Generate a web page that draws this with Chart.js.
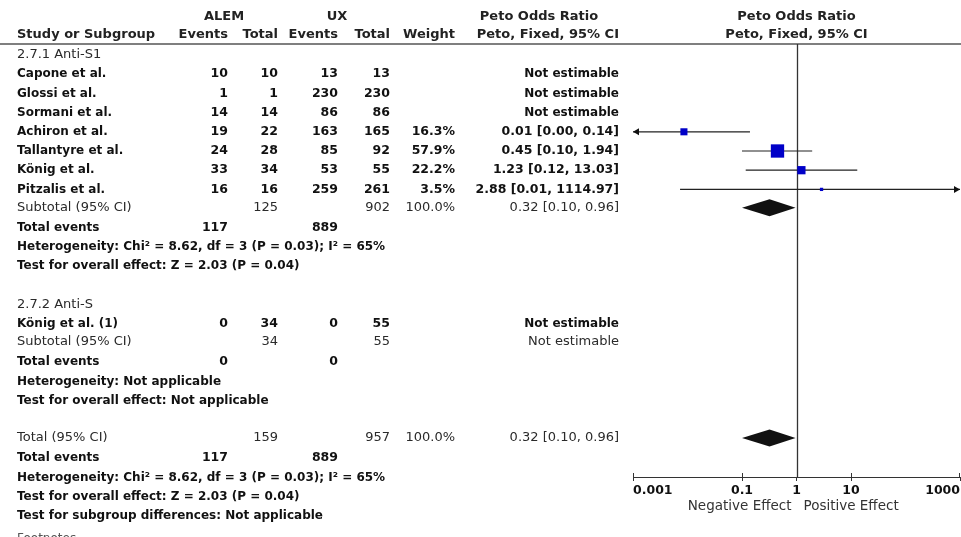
<!DOCTYPE html>
<html>
<head>
<meta charset="utf-8">
<script src="https://cdn.jsdelivr.net/npm/chart.js@4.4.0/dist/chart.umd.min.js"></script>
<style>
  html, body { margin: 0; padding: 0; background: #fff; }
  #wrap { width: 961px; height: 537px; }
</style>
</head>
<body>
<div id="wrap"><canvas id="forest" width="961" height="537"></canvas></div>
<script>
// 2.7.1 Anti-S1
const studyNames = ['Capone et al.', 'Glossi et al.', 'Sormani et al.', 'Achiron et al.', 'Tallantyre et al.', 'König et al.', 'Pitzalis et al.'];
const alemEvents = [10, 1, 14, 19, 24, 33, 16];
const alemTotal = [10, 1, 14, 22, 28, 34, 16];
const uxEvents = [13, 230, 86, 163, 85, 53, 259];
const uxTotal = [13, 230, 86, 165, 92, 55, 261];
const weights = [null, null, null, 16.3, 57.9, 22.2, 3.5];
const oddsRatio = [null, null, null, 0.0086, 0.448, 1.23, 2.88];
const ciLow = [null, null, null, 0.0004, 0.10, 0.117, 0.0073];
const ciHigh = [null, null, null, 0.14, 1.94, 13.03, 1114.97];

// 2.7.2 Anti-S
const studyNames2 = ['König et al. (1)'];
const alemEvents2 = [0];
const alemTotal2 = [34];
const uxEvents2 = [0];
const uxTotal2 = [55];

// pooled results [OR, low, high]
const subtotal1 = [0.32, 0.10, 0.96];
const overall = [0.32, 0.10, 0.96];

const tickValues = [0.001, 0.1, 1, 10, 1000];
const tickLabels = ['0.001', '0.1', '1', '10', '1000'];

const het1 = 'Heterogeneity: Chi² = 8.62, df = 3 (P = 0.03); I² = 65%';
const effect1 = 'Test for overall effect: Z = 2.03 (P = 0.04)';

// row layout (row index -> y through the y scale)
const studyRows = [1, 2, 3, 4, 5, 6, 7];
const ROW = {
  g1: 0, sub1: 7.95, ev1: 9, het1: 10, eff1: 11,
  g2: 13, study2: 14, sub2: 14.95, ev2: 16, het2: 17, eff2: 18,
  tot: 19.95, evT: 21, hetT: 22, effT: 23, subgrp: 24, foot: 25.2
};

const sum = a => a.reduce((s, v) => s + v, 0);
const fmt = v => v.toFixed(2);

const FONT = '"DejaVu Sans"';
const colX = { name: 17, ae: 228, at: 278, ue: 338, ut: 390, w: 455, ci: 619 };

const lineSets = [];
const squarePts = [];
const squareSize = [];
studyRows.forEach((r, i) => {
  if (oddsRatio[i] === null) return;
  lineSets.push({
    type: 'line',
    data: [{ x: Math.max(ciLow[i], 0.001), y: r }, { x: Math.min(ciHigh[i], 1000), y: r }],
    borderColor: '#222', borderWidth: 1.2, pointRadius: 0, order: 2
  });
  squarePts.push({ x: oddsRatio[i], y: r });
  squareSize.push(1.75 * Math.sqrt(weights[i]) / Math.SQRT2);
});

const forestExtras = {
  id: 'forestExtras',
  beforeDatasetsDraw(chart) {
    const { ctx, chartArea: a, scales: { x } } = chart;
    ctx.save();
    // header rule
    ctx.strokeStyle = '#555';
    ctx.lineWidth = 1.5;
    ctx.beginPath();
    ctx.moveTo(0, a.top);
    ctx.lineTo(961, a.top);
    ctx.stroke();
    // line of no effect
    const x1 = Math.round(x.getPixelForValue(1)) + 0.5;
    ctx.strokeStyle = '#333';
    ctx.lineWidth = 1.3;
    ctx.beginPath();
    ctx.moveTo(x1, a.top);
    ctx.lineTo(x1, a.bottom);
    ctx.stroke();
    ctx.restore();
  },
  afterDatasetsDraw(chart) {
    const { ctx, chartArea: a, scales: { x, y } } = chart;
    ctx.save();
    // arrows for CIs running off the axis
    ctx.fillStyle = '#111';
    studyRows.forEach((r, i) => {
      if (oddsRatio[i] === null) return;
      const py = y.getPixelForValue(r);
      if (ciLow[i] < x.min) {
        const px = a.left;
        ctx.beginPath();
        ctx.moveTo(px, py);
        ctx.lineTo(px + 6, py - 3.5);
        ctx.lineTo(px + 6, py + 3.5);
        ctx.closePath();
        ctx.fill();
      }
      if (ciHigh[i] > x.max) {
        const px = a.right;
        ctx.beginPath();
        ctx.moveTo(px, py);
        ctx.lineTo(px - 6, py - 3.5);
        ctx.lineTo(px - 6, py + 3.5);
        ctx.closePath();
        ctx.fill();
      }
    });
    // diamonds
    [[subtotal1, ROW.sub1], [overall, ROW.tot]].forEach(([d, r]) => {
      const py = y.getPixelForValue(r);
      ctx.beginPath();
      ctx.moveTo(x.getPixelForValue(d[1]), py);
      ctx.lineTo(x.getPixelForValue(d[0]), py - 8.5);
      ctx.lineTo(x.getPixelForValue(d[2]), py);
      ctx.lineTo(x.getPixelForValue(d[0]), py + 8.5);
      ctx.closePath();
      ctx.fill();
    });
    ctx.restore();
  },
  afterDraw(chart) {
    const { ctx, chartArea: a, scales: { x, y } } = chart;
    const ry = r => y.getPixelForValue(r);
    ctx.save();
    ctx.textBaseline = 'middle';
    const put = (txt, px, py, align, font, color) => {
      ctx.font = font;
      ctx.fillStyle = color;
      ctx.textAlign = align;
      ctx.fillText(txt, px, py);
    };
    const head = 'bold 13px ' + FONT;
    const grp = '13px ' + FONT;
    const dat = 'bold 12px ' + FONT;
    const num = 'bold 12.5px ' + FONT;
    const sub = '13px ' + FONT;
    const stat = 'bold 12px ' + FONT;
    const dark = '#111', grey = '#2a2a2a';

    // column headers
    put('ALEM', 224, 17, 'center', head, '#222');
    put('UX', 337, 17, 'center', head, '#222');
    put('Peto Odds Ratio', 539, 17, 'center', head, '#222');
    put('Peto Odds Ratio', x.getPixelForValue(1), 17, 'center', head, '#222');
    put('Study or Subgroup', colX.name, 35, 'left', head, '#222');
    put('Events', colX.ae, 35, 'right', head, '#222');
    put('Total', colX.at, 35, 'right', head, '#222');
    put('Events', colX.ue, 35, 'right', head, '#222');
    put('Total', colX.ut, 35, 'right', head, '#222');
    put('Weight', colX.w, 35, 'right', head, '#222');
    put('Peto, Fixed, 95% CI', colX.ci, 35, 'right', head, '#222');
    put('Peto, Fixed, 95% CI', x.getPixelForValue(1), 35, 'center', head, '#222');

    // group 1
    put('2.7.1 Anti-S1', colX.name, ry(ROW.g1), 'left', grp, grey);
    studyRows.forEach((r, i) => {
      const py = ry(r);
      put(studyNames[i], colX.name, py, 'left', dat, dark);
      put(String(alemEvents[i]), colX.ae, py, 'right', num, dark);
      put(String(alemTotal[i]), colX.at, py, 'right', num, dark);
      put(String(uxEvents[i]), colX.ue, py, 'right', num, dark);
      put(String(uxTotal[i]), colX.ut, py, 'right', num, dark);
      if (weights[i] === null) {
        put('Not estimable', colX.ci, py, 'right', dat, dark);
      } else {
        put(weights[i].toFixed(1) + '%', colX.w, py, 'right', num, dark);
        put(fmt(oddsRatio[i]) + ' [' + fmt(ciLow[i]) + ', ' + fmt(ciHigh[i]) + ']', colX.ci, py, 'right', num, dark);
      }
    });
    let py = ry(ROW.sub1);
    put('Subtotal (95% CI)', colX.name, py, 'left', sub, grey);
    put(String(sum(alemTotal)), colX.at, py, 'right', sub, grey);
    put(String(sum(uxTotal)), colX.ut, py, 'right', sub, grey);
    put('100.0%', colX.w, py, 'right', sub, grey);
    put(fmt(subtotal1[0]) + ' [' + fmt(subtotal1[1]) + ', ' + fmt(subtotal1[2]) + ']', colX.ci, py, 'right', sub, grey);
    py = ry(ROW.ev1);
    put('Total events', colX.name, py, 'left', stat, dark);
    put(String(sum(alemEvents)), colX.ae, py, 'right', num, dark);
    put(String(sum(uxEvents)), colX.ue, py, 'right', num, dark);
    put(het1, colX.name, ry(ROW.het1), 'left', stat, dark);
    put(effect1, colX.name, ry(ROW.eff1), 'left', stat, dark);

    // group 2
    put('2.7.2 Anti-S', colX.name, ry(ROW.g2), 'left', grp, grey);
    py = ry(ROW.study2);
    put(studyNames2[0], colX.name, py, 'left', dat, dark);
    put(String(alemEvents2[0]), colX.ae, py, 'right', num, dark);
    put(String(alemTotal2[0]), colX.at, py, 'right', num, dark);
    put(String(uxEvents2[0]), colX.ue, py, 'right', num, dark);
    put(String(uxTotal2[0]), colX.ut, py, 'right', num, dark);
    put('Not estimable', colX.ci, py, 'right', dat, dark);
    py = ry(ROW.sub2);
    put('Subtotal (95% CI)', colX.name, py, 'left', sub, grey);
    put(String(sum(alemTotal2)), colX.at, py, 'right', sub, grey);
    put(String(sum(uxTotal2)), colX.ut, py, 'right', sub, grey);
    put('Not estimable', colX.ci, py, 'right', sub, grey);
    py = ry(ROW.ev2);
    put('Total events', colX.name, py, 'left', stat, dark);
    put(String(sum(alemEvents2)), colX.ae, py, 'right', num, dark);
    put(String(sum(uxEvents2)), colX.ue, py, 'right', num, dark);
    put('Heterogeneity: Not applicable', colX.name, ry(ROW.het2), 'left', stat, dark);
    put('Test for overall effect: Not applicable', colX.name, ry(ROW.eff2), 'left', stat, dark);

    // overall
    py = ry(ROW.tot);
    put('Total (95% CI)', colX.name, py, 'left', sub, grey);
    put(String(sum(alemTotal) + sum(alemTotal2)), colX.at, py, 'right', sub, grey);
    put(String(sum(uxTotal) + sum(uxTotal2)), colX.ut, py, 'right', sub, grey);
    put('100.0%', colX.w, py, 'right', sub, grey);
    put(fmt(overall[0]) + ' [' + fmt(overall[1]) + ', ' + fmt(overall[2]) + ']', colX.ci, py, 'right', sub, grey);
    py = ry(ROW.evT);
    put('Total events', colX.name, py, 'left', stat, dark);
    put(String(sum(alemEvents) + sum(alemEvents2)), colX.ae, py, 'right', num, dark);
    put(String(sum(uxEvents) + sum(uxEvents2)), colX.ue, py, 'right', num, dark);
    put(het1, colX.name, ry(ROW.hetT), 'left', stat, dark);
    put(effect1, colX.name, ry(ROW.effT), 'left', stat, dark);
    put('Test for subgroup differences: Not applicable', colX.name, ry(ROW.subgrp), 'left', stat, dark);
    put('Footnotes', colX.name, ry(ROW.foot), 'left', '12px ' + FONT, '#555');

    // short tick marks above the axis, and effect labels
    ctx.strokeStyle = '#333';
    ctx.lineWidth = 1;
    tickValues.forEach(v => {
      const tx = Math.min(Math.round(x.getPixelForValue(v)) + 0.5, a.right - 0.5);
      ctx.beginPath();
      ctx.moveTo(tx, a.bottom - 4);
      ctx.lineTo(tx, a.bottom);
      ctx.stroke();
    });
    const x1 = x.getPixelForValue(1);
    put('Negative Effect', x1 - 5, 506, 'right', '13.5px ' + FONT, '#333');
    put('Positive Effect', x1 + 7, 506, 'left', '13.5px ' + FONT, '#333');
    ctx.restore();
  }
};

new Chart(document.getElementById('forest'), {
  type: 'scatter',
  data: {
    datasets: [
      {
        type: 'scatter',
        data: squarePts,
        pointStyle: 'rect',
        pointRadius: squareSize,
        pointHoverRadius: squareSize,
        backgroundColor: '#0000c8',
        borderWidth: 0,
        order: 1
      },
      ...lineSets
    ]
  },
  options: {
    responsive: false,
    maintainAspectRatio: false,
    animation: false,
    devicePixelRatio: 1,
    layout: { autoPadding: false, padding: { left: 633, right: 1, top: 44, bottom: 40 } },
    plugins: { legend: { display: false }, tooltip: { enabled: false } },
    scales: {
      x: {
        type: 'logarithmic',
        min: 0.001,
        max: 1000,
        afterBuildTicks: s => { s.ticks = tickValues.map(v => ({ value: v })); },
        afterFit: s => { s.height = 20; s.paddingLeft = 0; s.paddingRight = 0; },
        ticks: {
          callback: (v, i) => tickLabels[i],
          autoSkip: false,
          maxRotation: 0,
          align: 'inner',
          padding: 2,
          color: '#111',
          font: { family: 'DejaVu Sans', size: 12.5, weight: 'bold' }
        },
        grid: { drawOnChartArea: false, tickLength: 4, color: '#333' },
        border: { color: '#333', width: 1 }
      },
      y: {
        type: 'linear',
        min: -0.573,
        max: 21.98,
        reverse: true,
        display: false
      }
    }
  },
  plugins: [forestExtras]
});
</script>
</body>
</html>
